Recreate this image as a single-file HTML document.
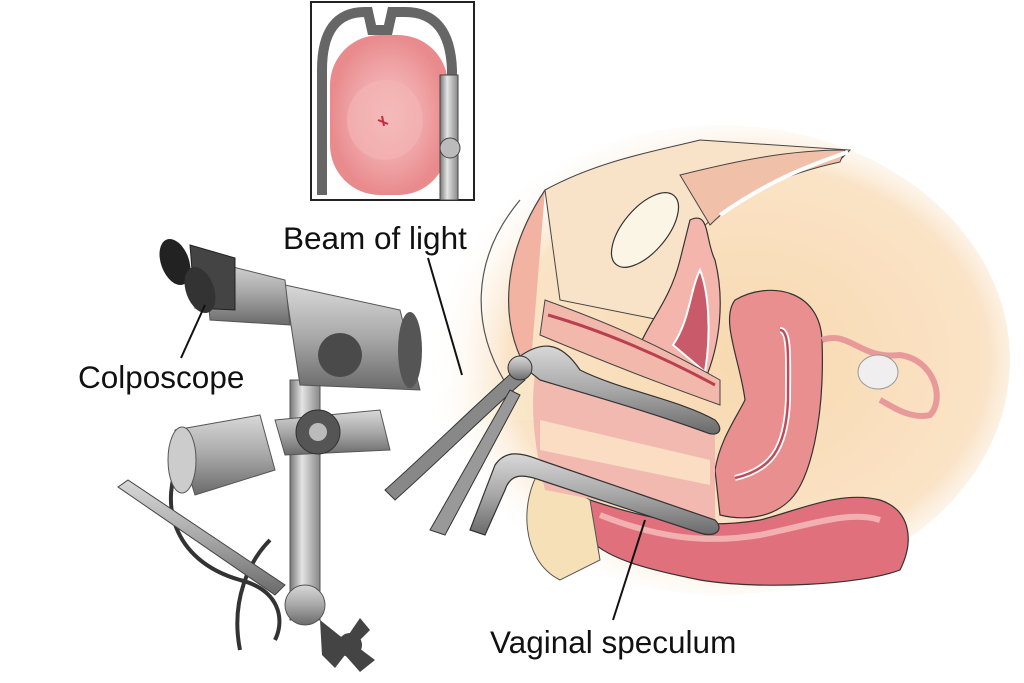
<!DOCTYPE html>
<html><head><meta charset="utf-8"><style>
html,body{margin:0;padding:0;background:#fff;width:1024px;height:683px;overflow:hidden}
svg{display:block}
text{font-family:"Liberation Sans",sans-serif;fill:#111}
</style></head><body>
<svg width="1024" height="683" viewBox="0 0 1024 683" xmlns="http://www.w3.org/2000/svg">
<defs>
<radialGradient id="peach" cx="0.55" cy="0.5" r="0.55">
<stop offset="0" stop-color="#f8d9b0"/><stop offset="0.75" stop-color="#fae3c6"/><stop offset="1" stop-color="#fff" stop-opacity="0"/>
</radialGradient>
<linearGradient id="metal" x1="0" y1="0" x2="0" y2="1">
<stop offset="0" stop-color="#d8d8d8"/><stop offset="0.5" stop-color="#a8a8a8"/><stop offset="1" stop-color="#6a6a6a"/>
</linearGradient>
<linearGradient id="metalH" x1="0" y1="0" x2="1" y2="0">
<stop offset="0" stop-color="#777"/><stop offset="0.4" stop-color="#e4e4e4"/><stop offset="1" stop-color="#888"/>
</linearGradient>
<linearGradient id="beam" x1="0" y1="0" x2="1" y2="0">
<stop offset="0" stop-color="#fff" stop-opacity="0"/><stop offset="1" stop-color="#f6e2b8"/>
</linearGradient>
<radialGradient id="cervix" cx="0.5" cy="0.5" r="0.5">
<stop offset="0" stop-color="#f6c7c6"/><stop offset="0.7" stop-color="#ee9ea0"/><stop offset="1" stop-color="#e98a8d"/>
</radialGradient>
</defs>

<ellipse cx="720" cy="360" rx="290" ry="235" fill="url(#peach)"/>
<path d="M420 395 L560 360 L560 420 L420 420 Z" fill="url(#beam)" opacity="0.8"/>

<path d="M520 200 C470 260 470 330 510 390" fill="none" stroke="#555" stroke-width="1.2"/>
<path d="M545 190 C505 250 495 320 530 375" fill="#f2b3a3" stroke="#444" stroke-width="1.2"/>
<path d="M545 190 C600 160 660 150 700 140 L850 150 L840 160 C760 180 720 210 700 230 L660 320 L560 300 Z" fill="#f9e3c8" stroke="#444" stroke-width="1"/>
<path d="M680 175 C740 160 790 150 845 150 L840 162 C780 175 740 195 710 225 Z" fill="#f0c0a8" stroke="#444"/>
<path d="M720 215 C770 180 810 165 848 152" fill="none" stroke="#fff" stroke-width="4"/>
<ellipse cx="645" cy="230" rx="22" ry="45" transform="rotate(40 645 230)" fill="#fbf5e6" stroke="#333" stroke-width="1.2"/>
<path d="M690 220 C710 210 705 240 715 260 C725 300 720 345 705 380 L640 345 C650 320 670 300 680 260 Z" fill="#f4b6ac" stroke="#333" stroke-width="1.2"/>
<path d="M673 345 C690 320 690 290 700 270 C708 290 712 330 705 372 Z" fill="#c95a6a" stroke="#fff" stroke-width="2"/>
<path d="M545 300 C600 320 650 340 720 380 L720 405 C650 380 600 360 540 335 Z" fill="#f3b8ac" stroke="#444" stroke-width="1"/>
<path d="M548 315 C600 330 660 355 715 385" fill="none" stroke="#b84050" stroke-width="3"/>
<path d="M735 300 C770 280 820 290 822 340 C825 420 810 480 790 500 C770 520 740 520 720 515 L715 470 C720 440 735 420 745 400 C740 360 720 320 735 300 Z" fill="#ea8f90" stroke="#333" stroke-width="1.2"/>
<path d="M780 330 C790 330 788 360 788 400 C786 450 770 470 735 478" fill="none" stroke="#fff" stroke-width="6"/>
<path d="M780 330 C790 330 788 360 788 400 C786 450 770 470 735 478" fill="none" stroke="#c04a58" stroke-width="2.5"/>
<path d="M822 340 C850 330 860 360 900 355 C935 360 945 400 930 415 C910 420 890 405 880 400" fill="none" stroke="#e89a9a" stroke-width="6"/>
<ellipse cx="878" cy="372" rx="20" ry="17" fill="#f0eeee" stroke="#999"/>
<path d="M590 500 C650 520 700 530 760 520 C800 510 840 490 880 500 C910 510 915 540 900 570 C860 585 760 590 700 580 C650 570 610 560 590 540 Z" fill="#e0707c" stroke="#333" stroke-width="1.2"/>
<path d="M600 515 C650 535 700 545 760 535 C810 525 850 510 880 520" fill="none" stroke="#f3b0b0" stroke-width="6"/>
<path d="M540 470 C520 500 520 560 560 580 L600 560 L590 500 Z" fill="#f6e0b8" stroke="#555"/>
<path d="M535 375 C600 385 660 400 715 420 L715 525 C660 515 600 500 545 490 C535 450 530 410 535 375 Z" fill="#f2b9b0"/>
<path d="M540 420 L710 460 L710 485 L540 450 Z" fill="#fbe6c8" opacity="0.8"/>
<path d="M385 490 C430 450 480 400 515 370 L525 380 C490 410 440 460 395 500 Z" fill="#888" stroke="#333"/>
<path d="M430 530 L510 390 L520 395 L445 535 Z" fill="#999" stroke="#333"/>
<path d="M515 360 C540 340 560 340 580 370 C620 390 680 400 715 420 C725 430 718 438 705 432 C650 412 590 395 540 380 Z" fill="url(#metal)" stroke="#333" stroke-width="1.2"/>
<circle cx="520" cy="368" r="12" fill="url(#metal)" stroke="#333"/>
<path d="M470 530 L495 465 C505 450 520 452 540 460 L715 520 C725 530 715 538 700 533 L540 480 C520 473 510 475 505 490 L485 535 Z" fill="url(#metal)" stroke="#333" stroke-width="1.2"/>

<path d="M240 650 C230 600 250 560 270 540" fill="none" stroke="#333" stroke-width="4"/>
<path d="M180 460 C160 500 170 560 240 580 C280 590 285 620 275 640" fill="none" stroke="#333" stroke-width="4"/>
<path d="M118 487 L128 480 L285 585 L275 595 Z" fill="url(#metal)" stroke="#444"/>
<rect x="290" y="380" width="30" height="240" fill="url(#metalH)" stroke="#555"/>
<path d="M175 430 L260 415 L275 470 L195 495 Z" fill="url(#metal)" stroke="#555"/>
<ellipse cx="182" cy="460" rx="14" ry="33" fill="#ccc" stroke="#555"/>
<path d="M275 420 L380 410 L390 450 L285 455 Z" fill="url(#metal)" stroke="#555"/>
<circle cx="318" cy="432" r="22" fill="#555" stroke="#333"/>
<circle cx="318" cy="432" r="9" fill="#bbb"/>
<path d="M285 285 L400 310 L420 390 L300 385 Z" fill="url(#metal)" stroke="#555"/>
<ellipse cx="410" cy="350" rx="12" ry="38" fill="#555"/>
<circle cx="340" cy="355" r="22" fill="#4a4a4a"/>
<path d="M205 260 L285 280 L290 325 L210 320 Z" fill="url(#metal)" stroke="#555"/>
<path d="M190 245 L235 258 L235 310 L195 308 Z" fill="#444" stroke="#222"/>
<ellipse cx="175" cy="262" rx="14" ry="24" transform="rotate(-20 175 262)" fill="#222"/>
<ellipse cx="200" cy="290" rx="14" ry="24" transform="rotate(-20 200 290)" fill="#333"/>
<circle cx="305" cy="605" r="20" fill="url(#metal)" stroke="#555"/>
<path d="M320 620 L345 640 L360 618 L370 630 L355 645 L375 660 L360 672 L345 655 L335 668 L322 655 Z" fill="#444"/>
<circle cx="350" cy="645" r="12" fill="#444"/>

<rect x="311" y="2" width="163" height="198" fill="#fff" stroke="#222" stroke-width="2"/>
<rect x="330" y="35" width="118" height="160" rx="50" fill="url(#cervix)"/>
<ellipse cx="385" cy="120" rx="38" ry="40" fill="#f3b4b4" opacity="0.7"/>
<path d="M378 120 l10 4 M382 116 l2 10" stroke="#c03040" stroke-width="2"/>
<path d="M322 195 L322 70 Q322 12 365 12 L368 12 L372 30 L388 30 L392 12 L405 12 Q450 12 452 70 L452 195" fill="none" stroke="#666" stroke-width="10"/>
<rect x="440" y="75" width="18" height="125" fill="url(#metalH)" stroke="#444"/>
<circle cx="450" cy="148" r="10" fill="#bbb" stroke="#444"/>

<text x="283" y="249" font-size="31.5">Beam of light</text>
<line x1="428" y1="258" x2="462" y2="375" stroke="#111" stroke-width="2"/>
<text x="78" y="388" font-size="31.5">Colposcope</text>
<line x1="181" y1="358" x2="205" y2="305" stroke="#111" stroke-width="2"/>
<text x="490" y="653" font-size="31.5">Vaginal speculum</text>
<line x1="613" y1="620" x2="645" y2="520" stroke="#111" stroke-width="2"/>
</svg>
</body></html>
